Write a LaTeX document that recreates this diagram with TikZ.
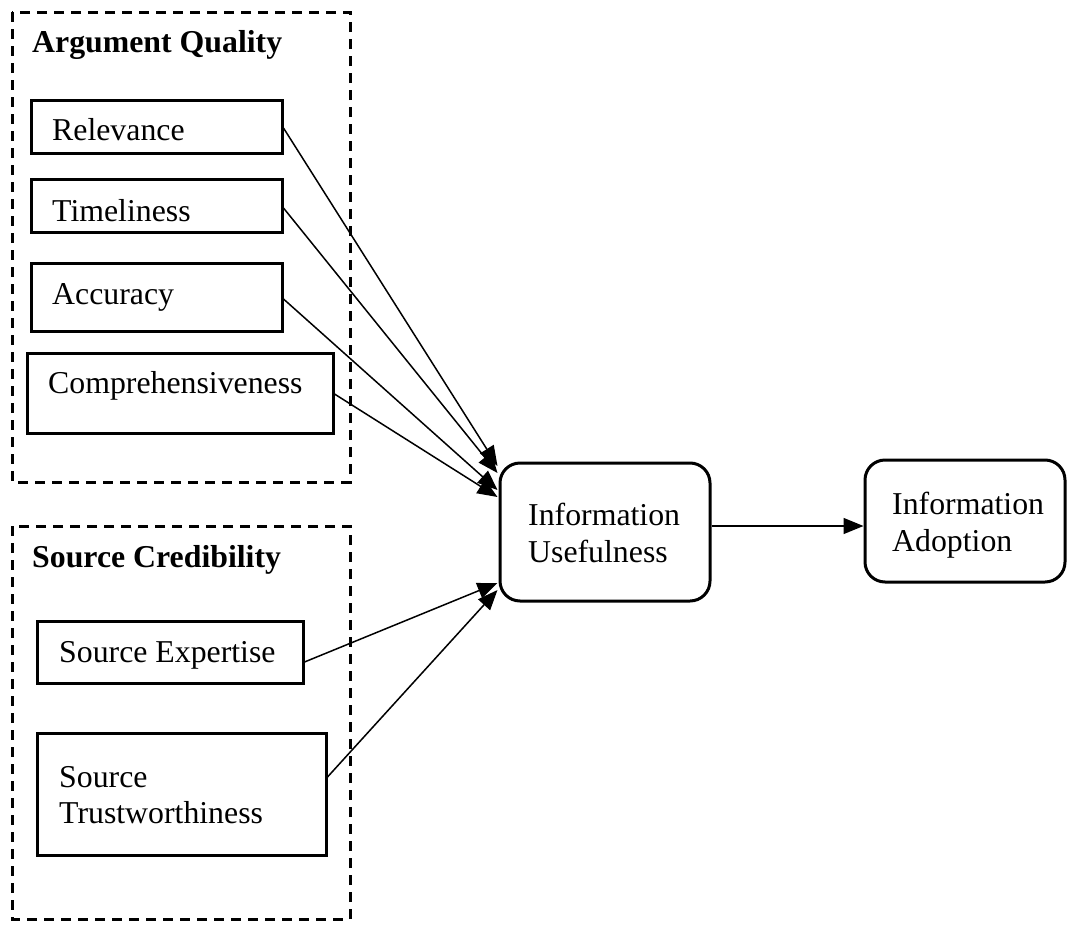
\documentclass[tikz,border=0pt]{standalone}
\usepackage{fontspec}
\setmainfont{Liberation Serif}
\usetikzlibrary{arrows.meta}
\begin{document}
\begin{tikzpicture}[x=1pt,y=-1pt,
  every node/.style={font=\fontsize{31.8pt}{37pt}\selectfont},
  group/.style={draw, line width=3pt, dash pattern=on 10pt off 7pt},
  box/.style={draw, line width=3pt, rectangle, inner sep=0pt},
  rbox/.style={draw, line width=3pt, rectangle, rounded corners=20pt, inner sep=0pt},
  lbl/.style={anchor=base west, inner sep=0pt},
  title/.style={anchor=base west, inner sep=0pt, font=\fontsize{31.8pt}{37pt}\selectfont\bfseries},
  arr/.style={line width=1.5pt, -{Triangle[length=20pt,width=16pt]}}]
\useasboundingbox (0,0) rectangle (1068,926);

% grouping frames
\draw[group] (12,12) rectangle (350,482);
\draw[group] (12,526) rectangle (350,919);
\node[title] (aqt) at (32,52) {Argument Quality};
\node[title] (sct) at (32,567) {Source Credibility};

% argument quality items
\node[box, minimum width=251pt, minimum height=53pt] (rel) at (156.5,126.5) {};
\node[lbl] (relt) at (52,140) {Relevance};
\node[box, minimum width=251pt, minimum height=53pt] (tim) at (156.5,205.5) {};
\node[lbl] (timt) at (52,221) {Timeliness};
\node[box, minimum width=251pt, minimum height=68pt] (acc) at (156.5,297) {};
\node[lbl] (acct) at (52,304) {Accuracy};
\node[box, minimum width=306pt, minimum height=80pt] (com) at (180,393) {};
\node[lbl] (comt) at (48,393) {Comprehensiveness};

% source credibility items
\node[box, minimum width=266pt, minimum height=62pt] (exp) at (170,652) {};
\node[lbl] (expt) at (59,662) {Source Expertise};
\node[box, minimum width=289pt, minimum height=122pt] (tru) at (181.5,794) {};
\node[lbl] (trut1) at (59,787) {Source};
\node[lbl] (trut2) at (59,823) {Trustworthiness};

% outcome constructs
\node[rbox, minimum width=210pt, minimum height=138pt] (use) at (605,532) {};
\node[lbl] (uset1) at (528,525) {Information};
\node[lbl] (uset2) at (528,562) {Usefulness};
\node[rbox, minimum width=200pt, minimum height=122pt] (ado) at (965,521) {};
\node[lbl] (adot1) at (892,514) {Information};
\node[lbl] (adot2) at (892,551) {Adoption};

% paths
\draw[arr] ([yshift=-1.5pt]rel.east) -- ([yshift=66pt,xshift=-1pt]use.west);
\draw[arr] ([yshift=-2.5pt]tim.east) -- ([yshift=59pt,xshift=-1pt]use.west);
\draw[arr] ([yshift=-2pt]acc.east) -- ([yshift=42pt,xshift=-1pt]use.west);
\draw[arr] ([yshift=-1pt]com.east) -- ([yshift=35pt,xshift=-1pt]use.west);
\draw[arr] ([yshift=-10pt]exp.east) -- ([yshift=-51pt,xshift=-1pt]use.west);
\draw[arr] ([yshift=17pt]tru.east) -- ([yshift=-58pt,xshift=-1pt]use.west);
\draw[arr] ([yshift=6pt]use.east) -- ([yshift=-5pt]ado.west);
\end{tikzpicture}
\end{document}
